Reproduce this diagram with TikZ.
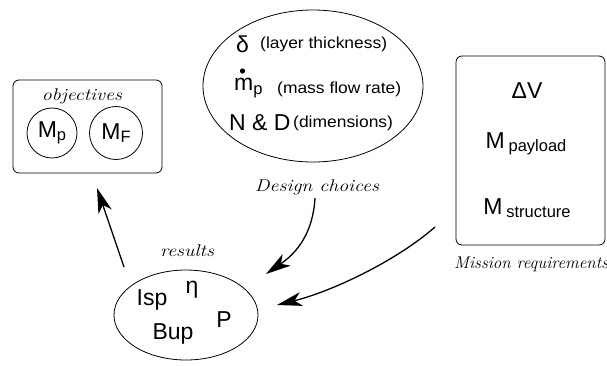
\documentclass[tikz,border=0pt]{standalone}
\usepackage{fontspec}
\usetikzlibrary{shapes.geometric,arrows.meta}
\newfontfamily\hv{Liberation Sans}
\newcommand\bigsf{\hv\fontsize{23}{26}\selectfont}
\newcommand\smallsf{\hv\fontsize{16}{18}\selectfont}
\newcommand\labfont{\itshape\fontsize{17}{20}\selectfont}
\newcommand\wide[1]{\scalebox{1.17}[1]{#1}}
\newcommand\swide[1]{\scalebox{1.09}[1]{#1}}
\newcommand\dsub[1]{\raisebox{-3.5pt}{\fontsize{16.5}{18}\selectfont #1}}
\tikzset{
  rbox/.style={draw, rounded corners=6pt, line width=0.8pt},
  ring/.style={draw, circle, line width=0.8pt, inner sep=0pt},
  oval/.style={draw, ellipse, line width=0.8pt, inner sep=0pt},
  arr/.style={line width=1.3pt, -{Stealth[length=25pt,width=14pt,inset=7pt,fill=black]}},
  txt/.style={inner sep=0pt},
  note/.style={inner sep=0pt, anchor=west, font=\smallsf}
}
\begin{document}
\begin{tikzpicture}[x=1pt,y=-1pt]
\useasboundingbox (0,0) rectangle (607,365);
% objectives
\node[rbox, minimum width=149pt, minimum height=93pt] (obj) at (87.5,126.5) {};
\node[txt, font=\labfont] (objl) at (82,96) {\wide{objectives}};
\node[ring, minimum size=50pt] (mp) at (52,133) {\bigsf M\dsub{p}};
\node[ring, minimum size=53pt] (mf) at (116,133) {\bigsf M\dsub{F}};
% design choices
\node[oval, minimum width=220pt, minimum height=152pt] (des) at (313,86) {};
\node[txt, anchor=west] (d1) at (236,44) {\bigsf δ};
\node[note] (d1b) at (260,44) {\swide{(layer thickness)}};
\node[txt, anchor=west] (d2) at (234,88) {\bigsf m\dsub{p}};
\fill (242.5,71) circle (2.6pt);
\node[note] (d2b) at (277,89) {\swide{(mass flow rate)}};
\node[txt, anchor=west] (d3) at (229,123) {\bigsf N \& D};
\node[note] (d3b) at (293,123) {\swide{(dimensions)}};
\node[txt, font=\labfont] (desl) at (317,187) {\wide{Design choices}};
% mission
\node[rbox, minimum width=149pt, minimum height=189pt] (mis) at (530.5,150.5) {};
\node[txt] (m1) at (527,91) {\bigsf ΔV};
\node[txt] (m2) at (526,144) {\bigsf M\,\dsub{payload}};
\node[txt] (m3) at (527,208) {\bigsf M\,\dsub{structure}};
\node[txt, font=\labfont, anchor=west] (misl) at (454,264) {Mission requirements};
% results
\node[oval, minimum width=144pt, minimum height=90pt] (res) at (186,315) {};
\node[txt, font=\labfont] (resl) at (187,251) {\wide{results}};
\node[txt] (r1) at (152,300) {\bigsf Isp};
\node[txt] (r2) at (192,290) {\bigsf η};
\node[txt] (r3) at (224,320) {\bigsf P};
\node[txt] (r4) at (173,334) {\bigsf Bup};
% arrows
\coordinate (a1s) at (124,267);
\coordinate (a1e) at (97,188);
\coordinate (a2s) at (315,198);
\coordinate (a2e) at (266,274);
\coordinate (a3s) at (435,227);
\coordinate (a3e) at (277,305);
\draw[arr] (a1s) -- (a1e);
\draw[arr] (a2s) .. controls (313,232) and (298,252) .. (a2e);
\draw[arr] (a3s) .. controls (395,262) and (330,292) .. (a3e);
\end{tikzpicture}
\end{document}
